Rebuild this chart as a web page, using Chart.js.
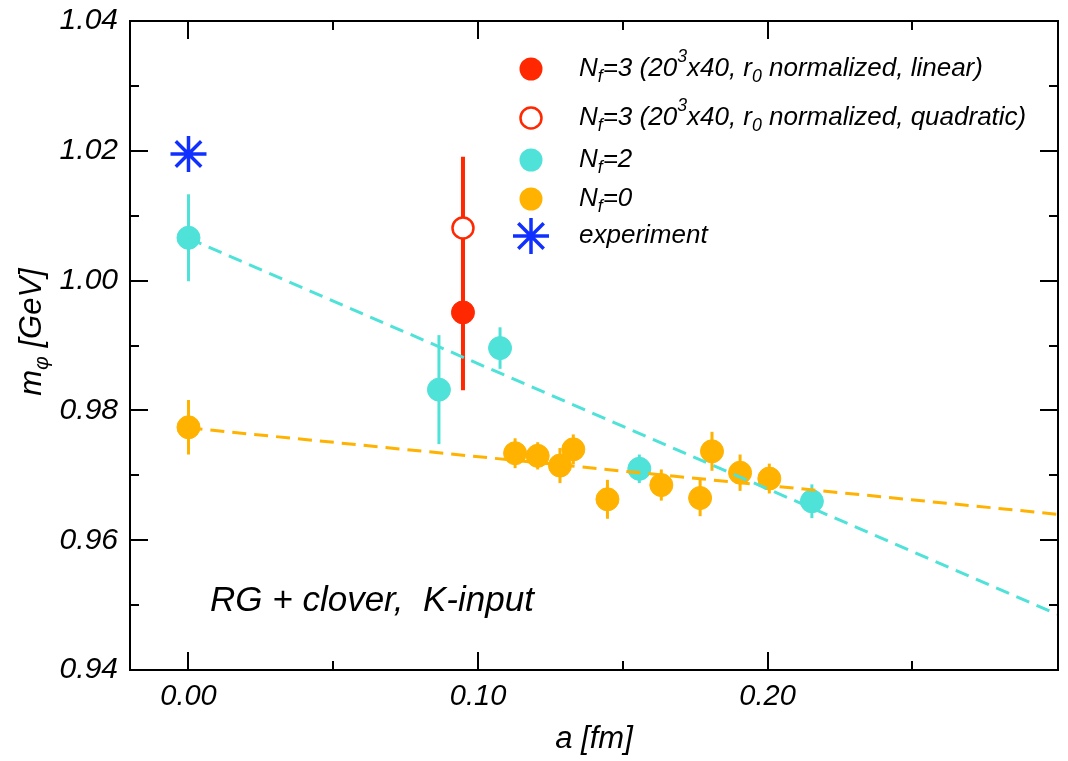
<!DOCTYPE html>
<html>
<head>
<title>m_phi vs a</title>
<script src="https://cdn.jsdelivr.net/npm/chart.js"></script>
<style>
  body { margin: 0; background: #fff; }
</style>
</head>
<body>
<canvas id="phiChart" width="1068" height="761"></canvas>
<script>
// ---- data ----
var nf3Lin_a = [0.0948];
var nf3Lin_m = [0.9951];
var nf3Lin_err = [0.0120];

var nf3Quad_a = [0.0948];
var nf3Quad_m = [1.0081];
var nf3Quad_err = [0.0110];

var nf2_a = [0.0, 0.0865, 0.1076, 0.1557, 0.2153];
var nf2_m = [1.0066, 0.9832, 0.9896, 0.9710, 0.9660];
var nf2_err = [0.0067, 0.0084, 0.0032, 0.0022, 0.0026];

var nf0_a = [0.0, 0.1128, 0.1206, 0.1283, 0.1329, 0.1447, 0.1633, 0.1767, 0.1808, 0.1905, 0.2006];
var nf0_m = [0.9774, 0.9734, 0.9730, 0.9715, 0.9740, 0.9663, 0.9685, 0.9665, 0.9737, 0.9704, 0.9695];
var nf0_err = [0.0042, 0.0023, 0.0021, 0.0027, 0.0023, 0.0030, 0.0024, 0.0028, 0.0030, 0.0028, 0.0023];

var exp_a = [0.0];
var exp_m = [1.0195];

// linear fits (end points)
var fitNf2_a = [0.0, 0.30];
var fitNf2_m = [1.0065, 0.9486];
var fitNf0_a = [0.0, 0.30];
var fitNf0_m = [0.9773, 0.9640];

// ticks
var xMajor = [0.0, 0.1, 0.2];
var xMinor = [0.05, 0.15, 0.25];
var yMajor = [0.94, 0.96, 0.98, 1.00, 1.02, 1.04];
var yMinor = [0.95, 0.97, 0.99, 1.01, 1.03];

var legendLabels = [
    [['N', 'n'], ['f', 'sub'], ['=3 (20', 'n'], ['3', 'sup'], ['x40, r', 'n'], ['0', 'sub'], [' normalized, linear)', 'n']],
    [['N', 'n'], ['f', 'sub'], ['=3 (20', 'n'], ['3', 'sup'], ['x40, r', 'n'], ['0', 'sub'], [' normalized, quadratic)', 'n']],
    [['N', 'n'], ['f', 'sub'], ['=2', 'n']],
    [['N', 'n'], ['f', 'sub'], ['=0', 'n']],
    [['experiment', 'n']]
];
var noteText = 'RG + clover,  K-input';

var FONT = '"Liberation Sans", Arial, sans-serif';
var RED = 'rgb(255,40,0)';
var CYAN = 'rgb(78,226,216)';
var ORANGE = 'rgb(255,178,0)';
var BLUE = 'rgb(16,48,255)';

function pts(a, m) {
    return a.map(function (v, i) { return { x: v, y: m[i] }; });
}

// vertical error bars, drawn under the markers
var errorBars = {
    id: 'errorBars',
    beforeDatasetsDraw: function (chart) {
        var ctx = chart.ctx, xs = chart.scales.x, ys = chart.scales.y;
        chart.data.datasets.forEach(function (ds) {
            if (!ds.errors) return;
            ctx.save();
            ctx.strokeStyle = ds.borderColor;
            ctx.lineWidth = ds.errWidth;
            ds.data.forEach(function (p, i) {
                var px = xs.getPixelForValue(p.x);
                ctx.beginPath();
                ctx.moveTo(px, ys.getPixelForValue(p.y - ds.errors[i]));
                ctx.lineTo(px, ys.getPixelForValue(p.y + ds.errors[i]));
                ctx.stroke();
            });
            ctx.restore();
        });
    }
};

function drawRich(ctx, parts, x, y, size) {
    parts.forEach(function (p) {
        var s = size, dy = 0;
        if (p[1] === 'sub') { s = size * 0.68; dy = size * 0.32; }
        if (p[1] === 'sup') { s = size * 0.68; dy = -size * 0.45; }
        ctx.font = 'italic ' + s + 'px ' + FONT;
        ctx.fillText(p[0], x, y + dy);
        x += ctx.measureText(p[0]).width;
    });
    return x;
}

// box, inward ticks, legend, note, y title
var decorations = {
    id: 'decorations',
    afterDraw: function (chart) {
        var ctx = chart.ctx, a = chart.chartArea, xs = chart.scales.x, ys = chart.scales.y;
        ctx.save();
        ctx.strokeStyle = '#000';
        ctx.lineWidth = 2;
        ctx.strokeRect(a.left, a.top, a.right - a.left, a.bottom - a.top);
        ctx.beginPath();
        xMajor.concat(xMinor).forEach(function (v, i) {
            var len = i < xMajor.length ? 18 : 9;
            var px = Math.round(xs.getPixelForValue(v));
            ctx.moveTo(px, a.bottom); ctx.lineTo(px, a.bottom - len);
            ctx.moveTo(px, a.top); ctx.lineTo(px, a.top + len);
        });
        yMajor.concat(yMinor).forEach(function (v, i) {
            var len = i < yMajor.length ? 18 : 9;
            var py = Math.round(ys.getPixelForValue(v));
            ctx.moveTo(a.left, py); ctx.lineTo(a.left + len, py);
            ctx.moveTo(a.right, py); ctx.lineTo(a.right - len, py);
        });
        ctx.stroke();

        // legend
        var rowsY = [69, 118, 160, 199, 236];
        var mx = 531, tx = 579;
        ctx.fillStyle = RED;
        ctx.beginPath(); ctx.arc(mx, rowsY[0], 11.5, 0, Math.PI * 2); ctx.fill();
        ctx.fillStyle = '#fff'; ctx.strokeStyle = RED; ctx.lineWidth = 2.5;
        ctx.beginPath(); ctx.arc(mx, rowsY[1], 10.5, 0, Math.PI * 2); ctx.fill(); ctx.stroke();
        ctx.fillStyle = CYAN;
        ctx.beginPath(); ctx.arc(mx, rowsY[2], 11.5, 0, Math.PI * 2); ctx.fill();
        ctx.fillStyle = ORANGE;
        ctx.beginPath(); ctx.arc(mx, rowsY[3], 11.5, 0, Math.PI * 2); ctx.fill();
        ctx.strokeStyle = BLUE; ctx.lineWidth = 3.5;
        ctx.beginPath();
        [0, 45, 90, 135].forEach(function (deg) {
            var r = 18, t = deg * Math.PI / 180;
            ctx.moveTo(mx - r * Math.cos(t), rowsY[4] - r * Math.sin(t));
            ctx.lineTo(mx + r * Math.cos(t), rowsY[4] + r * Math.sin(t));
        });
        ctx.stroke();

        ctx.fillStyle = '#000';
        ctx.textBaseline = 'middle';
        legendLabels.forEach(function (parts, i) {
            drawRich(ctx, parts, tx, rowsY[i], 26);
        });

        // note
        ctx.font = 'italic 35px ' + FONT;
        ctx.textBaseline = 'alphabetic';
        ctx.fillText(noteText, 210, 611);

        // y title
        ctx.translate(32, 332);
        ctx.rotate(-Math.PI / 2);
        ctx.textBaseline = 'middle';
        ctx.textAlign = 'left';
        var parts = [['m', 'n'], ['\u03c6', 'sub'], [' [GeV]', 'n']];
        var w = 0;
        parts.forEach(function (p) {
            ctx.font = 'italic ' + (p[1] === 'n' ? 31 : 31 * 0.68) + 'px ' + FONT;
            w += ctx.measureText(p[0]).width;
        });
        drawRich(ctx, parts, -w / 2, 0, 31);
        ctx.restore();
    }
};

var ctx = document.getElementById('phiChart').getContext('2d');
var chart = new Chart(ctx, {
    type: 'scatter',
    data: {
        datasets: [
            { label: 'fit Nf=2', data: pts(fitNf2_a, fitNf2_m), showLine: true, borderColor: CYAN,
              borderWidth: 3, borderDash: [14, 8], pointRadius: 0, order: 0 },
            { label: 'fit Nf=0', data: pts(fitNf0_a, fitNf0_m), showLine: true, borderColor: ORANGE,
              borderWidth: 3, borderDash: [14, 8], pointRadius: 0, order: 0 },
            { label: 'Nf=3 linear', data: pts(nf3Lin_a, nf3Lin_m), errors: nf3Lin_err, errWidth: 4,
              backgroundColor: RED, borderColor: RED, borderWidth: 1, pointRadius: 11.5, order: 1 },
            { label: 'Nf=3 quadratic', data: pts(nf3Quad_a, nf3Quad_m), errors: nf3Quad_err, errWidth: 4,
              backgroundColor: '#fff', borderColor: RED, borderWidth: 2.5, pointRadius: 10.5, order: 1 },
            { label: 'Nf=2', data: pts(nf2_a, nf2_m), errors: nf2_err, errWidth: 3,
              backgroundColor: CYAN, borderColor: CYAN, borderWidth: 1, pointRadius: 11.5, order: 2 },
            { label: 'Nf=0', data: pts(nf0_a, nf0_m), errors: nf0_err, errWidth: 3,
              backgroundColor: ORANGE, borderColor: ORANGE, borderWidth: 1, pointRadius: 11.5, order: 3 },
            { label: 'experiment', data: pts(exp_a, exp_m), pointStyle: 'star',
              borderColor: BLUE, borderWidth: 3.5, pointRadius: 18, order: 1 }
        ]
    },
    options: {
        responsive: false,
        animation: false,
        layout: { autoPadding: false, padding: { left: 0, right: 10, top: 21, bottom: 0 } },
        plugins: { legend: { display: false }, tooltip: { enabled: false } },
        scales: {
            x: {
                type: 'linear', min: -0.0202, max: 0.3003,
                grid: { display: false, drawTicks: false },
                border: { display: false },
                afterBuildTicks: function (s) { s.ticks = xMajor.map(function (v) { return { value: v }; }); },
                afterFit: function (s) { s.height = 91; s.paddingLeft = 0; s.paddingRight = 0; },
                ticks: {
                    color: '#000', padding: 10, maxRotation: 0,
                    font: { family: FONT, size: 29, style: 'italic' },
                    callback: function (v) { return v.toFixed(2); }
                },
                title: {
                    display: true, text: 'a [fm]', color: '#000',
                    font: { family: FONT, size: 31, style: 'italic' },
                    padding: { top: 0, bottom: 3 }
                }
            },
            y: {
                type: 'linear', min: 0.94, max: 1.04,
                grid: { display: false, drawTicks: false },
                border: { display: false },
                afterBuildTicks: function (s) { s.ticks = yMajor.map(function (v) { return { value: v }; }); },
                afterFit: function (s) { s.width = 130; s.paddingTop = 0; s.paddingBottom = 0; },
                ticks: {
                    color: '#000', padding: 12,
                    font: { family: FONT, size: 30, style: 'italic' },
                    callback: function (v) { return v.toFixed(2); }
                }
            }
        }
    },
    plugins: [errorBars, decorations]
});
</script>
</body>
</html>
